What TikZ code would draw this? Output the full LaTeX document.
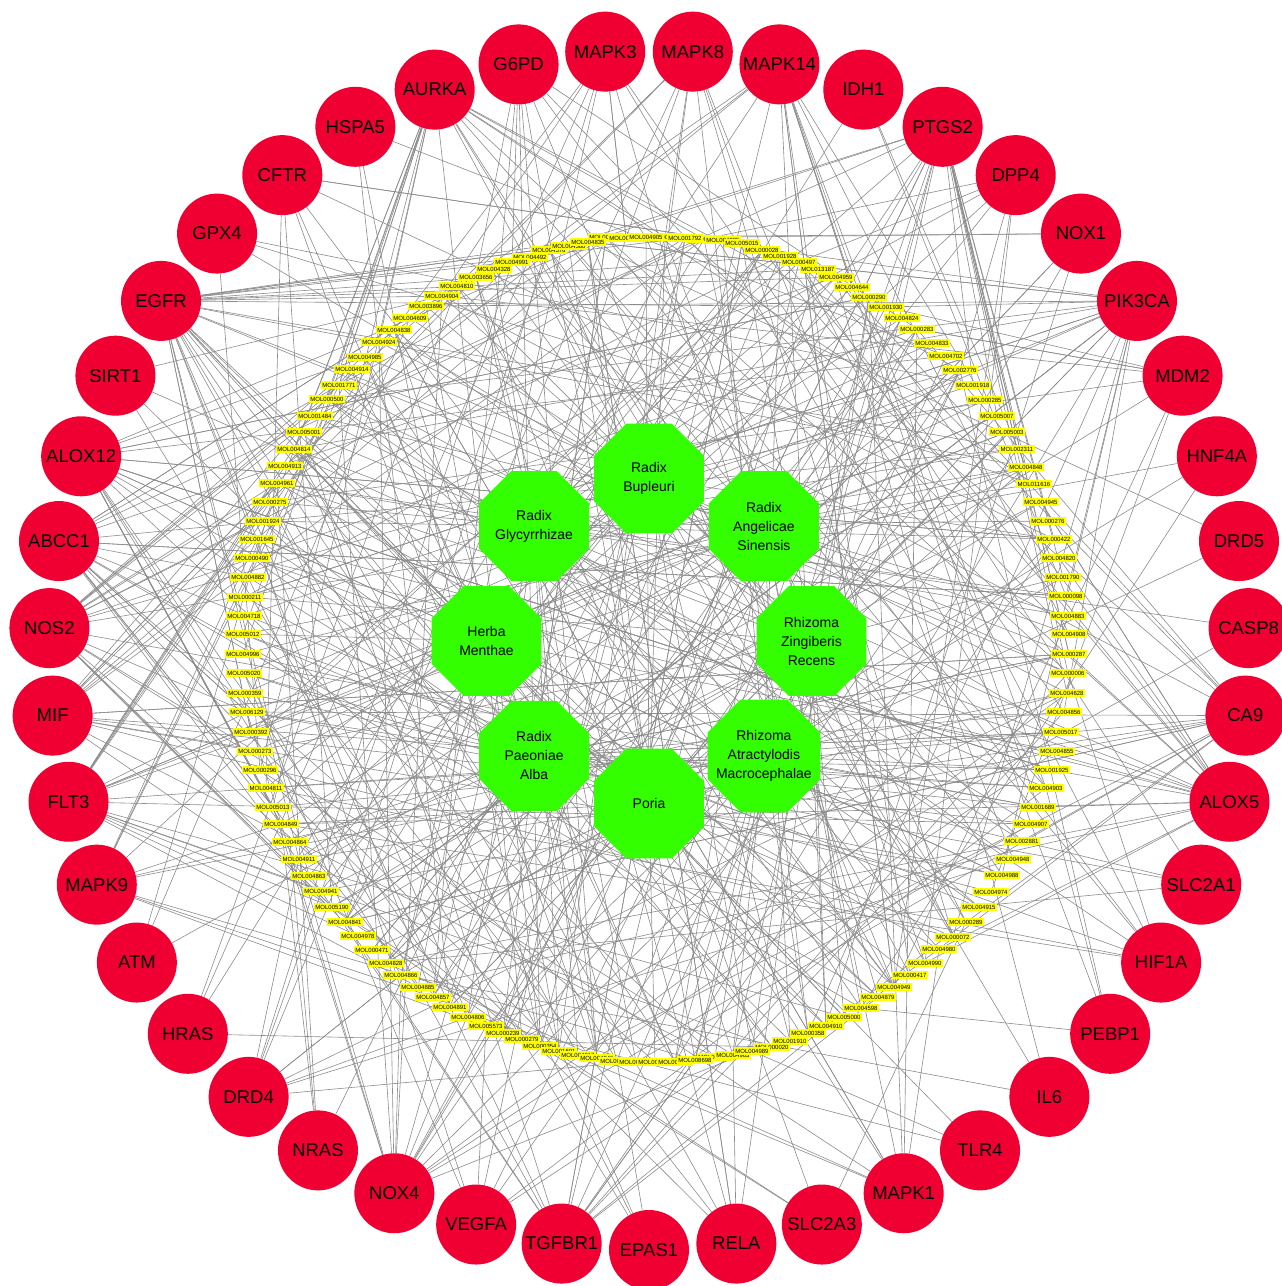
\documentclass[tikz,border=0pt]{standalone}
\usepackage{fontspec}
\setmainfont{Liberation Sans}
\usetikzlibrary{shapes.geometric}
\definecolor{tgtred}{RGB}{240,0,50}
\definecolor{herbgreen}{RGB}{51,255,0}
\definecolor{molyellow}{RGB}{255,255,0}
\definecolor{edgegray}{RGB}{140,140,140}
\pgfdeclarelayer{bg}
\pgfsetlayers{bg,main}
\tikzset{
 mol/.style={fill=molyellow, inner xsep=1.4pt, inner ysep=1.3pt, text height=4.4pt, text depth=0.2pt, font=\fontsize{6}{6}\selectfont},
 target/.style={circle, fill=tgtred, minimum size=80pt, inner sep=0pt, font=\fontsize{18.5}{20}\selectfont},
 herb/.style={regular polygon, regular polygon sides=8, fill=herbgreen, minimum size=119pt, inner sep=-8pt, align=center, font=\fontsize{14}{19}\selectfont},
 link/.style={draw=edgegray, line width=0.6pt},
}
\begin{document}
\begin{tikzpicture}[x=1pt,y=-1pt]
\useasboundingbox (0,0) rectangle (1282,1286);
\begin{pgfonlayer}{bg}\fill[white] (0,0) rectangle (1282,1286);\end{pgfonlayer}
% ingredient labels (hidden ones first, then visible)
\foreach \px/\py/\t [count=\i] in {
530/257/MOL004492,549/250/MOL004576,569/246/MOL004580,606/237/MOL004846,626/238/MOL004867,
665/237/MOL004902,704/239/MOL004916,723/240/MOL004935,742/243/MOL005015,
522/1039/MOL000279,540/1046/MOL000354,559/1051/MOL001601,578/1055/MOL004917,597/1058/MOL004946,
617/1061/MOL004950,636/1062/MOL004951,655/1062/MOL004952,675/1062/MOL004993,715/1057/MOL005100,733/1055/MOL004963,
588/242/MOL004835,646/237/MOL004905,685/238/MOL001792,762/250/MOL000028,780/256/MOL001928,
799/262/MOL000497,818/269/MOL013187,836/277/MOL004959,852/287/MOL004644,869/297/MOL000290,
886/307/MOL001930,902/318/MOL004824,917/329/MOL000283,932/343/MOL004833,946/356/MOL004702,
960/370/MOL002776,973/385/MOL001918,985/400/MOL000285,997/416/MOL005007,1007/432/MOL005003,
1017/449/MOL002311,1026/467/MOL004848,1034/484/MOL011616,1041/502/MOL004945,1048/521/MOL000276,
1054/539/MOL000422,1059/558/MOL004820,1063/577/MOL001790,1066/596/MOL000098,1068/616/MOL004883,
1069/634/MOL004908,1069/654/MOL000287,1068/673/MOL000006,1067/693/MOL004628,1064/712/MOL004856,
1061/732/MOL005017,1057/751/MOL004855,1052/770/MOL001925,1046/788/MOL004903,1038/807/MOL001689,
1031/824/MOL004907,1022/841/MOL002881,1013/859/MOL004948,1002/875/MOL004988,991/892/MOL004974,
979/907/MOL004915,966/922/MOL000289,953/937/MOL000072,939/949/MOL004980,925/963/MOL004990,
910/975/MOL000417,894/987/MOL004949,878/997/MOL004879,861/1008/MOL004598,844/1017/MOL005000,
826/1026/MOL004910,808/1033/MOL000358,790/1041/MOL001910,772/1047/MOL000020,752/1051/MOL004989,
695/1060/MOL008698,503/1033/MOL000239,486/1026/MOL005573,468/1017/MOL004806,450/1007/MOL004891,
433/997/MOL004857,418/987/MOL004885,401/975/MOL004866,386/963/MOL004828,372/950/MOL000471,
358/936/MOL004978,345/922/MOL004841,332/907/MOL005190,321/891/MOL004941,309/876/MOL004863,
299/859/MOL004911,290/842/MOL004864,281/824/MOL004849,273/807/MOL005013,266/788/MOL004811,
260/770/MOL000296,255/751/MOL000273,251/732/MOL000392,247/712/MOL006129,245/693/MOL000359,
244/673/MOL005020,243/654/MOL004996,243/634/MOL005012,244/616/MOL004718,245/597/MOL000211,
248/577/MOL004882,252/558/MOL000490,257/539/MOL001645,263/521/MOL001924,270/502/MOL000275,
277/483/MOL004961,285/466/MOL004913,294/449/MOL004814,304/432/MOL005001,315/416/MOL001484,
327/399/MOL000500,339/385/MOL001771,352/369/MOL004914,365/357/MOL004985,379/342/MOL004924,
394/330/MOL004838,410/318/MOL004609,426/306/MOL003896,442/296/MOL004904,457/286/MOL004810,
476/277/MOL003656,494/269/MOL004328,512/262/MOL004991}
{\node[mol] (y\i) at (\px,\py) {\t};}
% herbs
\foreach \t [count=\i] in {{Radix\\Bupleuri},{Radix\\Angelicae\\Sinensis},{Rhizoma\\Zingiberis\\Recens},
{Rhizoma\\Atractylodis\\Macrocephalae},{Poria},{Radix\\Paeoniae\\Alba},{Herba\\Menthae},{Radix\\Glycyrrhizae}}
{\node[herb] (g\i) at ({649+162.5*sin(45*(\i-1))},{641-162.5*cos(45*(\i-1))}) {\t};}
% targets
\foreach \nm [count=\k from 0] in {MAPK8,MAPK14,IDH1,PTGS2,DPP4,NOX1,PIK3CA,MDM2,HNF4A,DRD5,CASP8,CA9,ALOX5,
SLC2A1,HIF1A,PEBP1,IL6,TLR4,MAPK1,SLC2A3,RELA,EPAS1,TGFBR1,VEGFA,NOX4,NRAS,DRD4,HRAS,ATM,MAPK9,FLT3,MIF,
NOS2,ABCC1,ALOX12,SIRT1,EGFR,GPX4,CFTR,HSPA5,AURKA,G6PD,MAPK3}
{\pgfmathsetmacro\ang{4.186+\k*8.3721}
 \node[target] (r\nm) at ({649+600*sin(\ang)},{650-600*cos(\ang)}) {\nm};}
% connectors
\pgfmathsetseed{2024}
\begin{pgfonlayer}{bg}
\foreach \i in {1,...,133}{\pgfmathrandominteger{\g}{1}{8}\draw[link] (y\i) -- (g\g);}
\foreach \i in {2,4,...,132}{\pgfmathrandominteger{\g}{1}{8}\draw[link] (y\i) -- (g\g);}
\foreach \nm/\d in {MAPK8/10,MAPK14/16,IDH1/3,PTGS2/22,DPP4/8,NOX1/6,PIK3CA/22,MDM2/8,HNF4A/3,DRD5/2,CASP8/2,
CA9/16,ALOX5/20,SLC2A1/4,HIF1A/8,PEBP1/4,IL6/3,TLR4/3,MAPK1/10,SLC2A3/4,RELA/8,EPAS1/4,TGFBR1/16,VEGFA/8,
NOX4/18,NRAS/4,DRD4/10,HRAS/4,ATM/3,MAPK9/10,FLT3/18,MIF/16,NOS2/20,ABCC1/20,ALOX12/22,SIRT1/4,EGFR/30,
GPX4/4,CFTR/8,HSPA5/3,AURKA/20,G6PD/10,MAPK3/10}
{\foreach \k in {1,...,\d}{\pgfmathrandominteger{\yy}{1}{133}\draw[link] (r\nm) -- (y\yy);}}
\end{pgfonlayer}
\end{tikzpicture}
\end{document}
